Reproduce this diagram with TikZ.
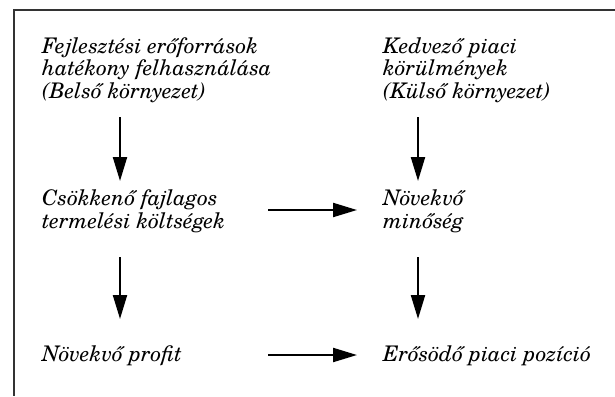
\documentclass[tikz,border=0pt]{standalone}
\usepackage{fontspec}
\setmainfont{texgyreschola}[Extension=.otf, UprightFont=*-regular, ItalicFont=*-italic, BoldFont=*-bold, BoldItalicFont=*-bolditalic]
\usetikzlibrary{arrows.meta}
\begin{document}
\begin{tikzpicture}[x=1pt,y=-1pt,
  lbl/.style={anchor=base west, inner sep=0pt, align=left, font=\fontsize{21.5}{22.2}\selectfont\itshape},
  flow/.style={line width=2.2pt, -{Triangle[length=24pt,width=14pt]}},
  frame/.style={line width=1.2pt, draw=black!80}]
\useasboundingbox (0,0) rectangle (615,396);
\draw[frame] (615,10) -- (14,10) -- (14,396);
% base anchor of a multi-line label is the baseline of its last line
\node[lbl] (a) at (42,98) {Fejlesztési erőforrások\\hatékony felhasználása\\(Belső környezet)};
\node[lbl] (b) at (383,98) {Kedvező piaci\\körülmények\\(Külső környezet)};
\node[lbl] (c) at (42,228) {Csökkenő fajlagos\\termelési költségek};
\node[lbl] (d) at (383,228) {Növekvő\\minőség};
\node[lbl] (e) at (42,361) {Növekvő profit};
\node[lbl] (f) at (383,361) {Erősödő piaci pozíció};
\coordinate (a1) at (120,117); \coordinate (c0) at (120,181);
\coordinate (b1) at (418,117); \coordinate (d0) at (418,181);
\coordinate (c1) at (120,257); \coordinate (e0) at (120,319);
\coordinate (d1) at (418,257); \coordinate (f0) at (418,319);
\coordinate (cr) at (268,210); \coordinate (dl) at (357,210);
\coordinate (er) at (268,355); \coordinate (fl) at (357,355);
\draw[flow] (a1) -- (c0);
\draw[flow] (b1) -- (d0);
\draw[flow] (c1) -- (e0);
\draw[flow] (d1) -- (f0);
\draw[flow] (cr) -- (dl);
\draw[flow] (er) -- (fl);
\end{tikzpicture}
\end{document}
